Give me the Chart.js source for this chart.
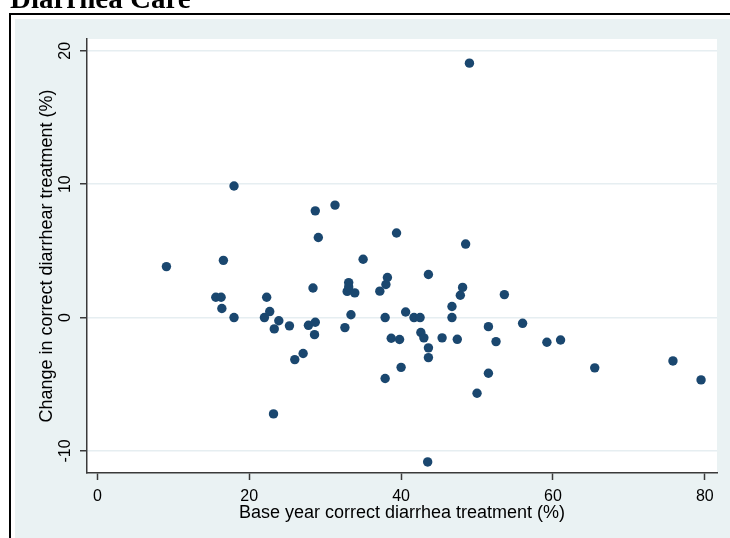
<!DOCTYPE html>
<html>
<head>
<meta charset="utf-8">
<script src="https://cdn.jsdelivr.net/npm/chart.js@4.4.0/dist/chart.umd.min.js"></script>
<style>
    html, body { margin: 0; padding: 0; background: #fff; }
    #wrap { position: relative; width: 730px; height: 538px; overflow: hidden; }
    #myChart { position: absolute; left: 0; top: 0; }
    #title { position: absolute; left: 10px; top: -16px; z-index: 2; white-space: nowrap;
             font: bold 29px 'Liberation Serif', 'Times New Roman', serif; line-height: 29px; color: #000; }
</style>
</head>
<body>
<div id="wrap">
    <canvas id="myChart" width="730" height="538"></canvas>
    <div id="title">Diarrhea Care</div>
</div>
<script>
// base year value (%) and change (%) per district
const baseYear = [9.1, 15.6, 16.3, 16.4, 16.6, 18.0, 18.0, 22.0, 22.3, 22.7,
    23.2, 23.3, 23.9, 25.3, 26.0, 27.1, 27.8, 28.4, 28.6, 28.7,
    28.7, 29.1, 31.3, 32.6, 32.9, 33.1, 33.1, 33.4, 33.9, 35.0,
    37.2, 37.9, 37.9, 38.0, 38.2, 38.7, 39.4, 39.8, 40.0, 40.6,
    41.7, 42.5, 42.6, 43.0, 43.5, 43.6, 43.6, 43.6, 45.4, 46.7,
    46.7, 47.4, 47.8, 48.1, 48.5, 49.0, 50.0, 51.5, 51.5, 52.5,
    53.6, 56.0, 59.2, 61.0, 65.5, 75.8, 79.5];
const change = [3.82, 1.52, 1.52, 0.68, 4.29, 9.86, 0.0, 0.0, 1.52, 0.45,
    -7.22, -0.85, -0.24, -0.62, -3.15, -2.69, -0.58, 2.22, -1.28, -0.35,
    8.0, 6.0, 8.43, -0.75, 1.96, 2.62, 2.3, 0.21, 1.85, 4.37,
    1.98, 0.0, -4.57, 2.48, 3.0, -1.55, 6.34, -1.64, -3.73, 0.42,
    0.0, 0.0, -1.12, -1.52, -10.82, 3.23, -2.27, -3.0, -1.52, 0.83,
    0.0, -1.63, 1.67, 2.26, 5.51, 19.07, -5.67, -0.68, -4.17, -1.8,
    1.72, -0.43, -1.85, -1.68, -3.77, -3.25, -4.67];
const xTicks = [0, 20, 40, 60, 80];
const yTicks = [-10, 0, 10, 20];
const xTitle = 'Base year correct diarrhea treatment (%)';
const yTitle = 'Change in correct diarrhear treatment (%)';

const axisColor = '#3a3a3a', gridColor = '#e6eef1', bgColor = '#eaf2f3';
const font = 'Liberation Sans, Arial, sans-serif';

// stata style frame: black rule, bluish graph region, white plot region
const frame = {
    id: 'frame',
    beforeDraw: function (chart) {
        const c = chart.ctx, a = chart.chartArea;
        c.save();
        c.fillStyle = '#fff';
        c.fillRect(0, 0, chart.width, chart.height);
        c.fillStyle = '#000';
        c.fillRect(9, 13, chart.width, 2);
        c.fillRect(9, 13, 2, chart.height);
        c.fillStyle = bgColor;
        c.fillRect(15, 19, chart.width, chart.height);
        c.fillStyle = '#fff';
        c.fillRect(a.left, a.top, a.right - a.left, a.bottom - a.top);
        c.restore();
    }
};

const points = baseYear.map(function (v, i) { return {x: v, y: change[i]}; });

new Chart(document.getElementById('myChart'), {
    type: 'scatter',
    data: {
        datasets: [{
            data: points,
            backgroundColor: '#1a476f',
            borderColor: '#1a476f',
            borderWidth: 0,
            pointRadius: 4.7,
            pointHoverRadius: 4.7
        }]
    },
    options: {
        responsive: false,
        animation: false,
        devicePixelRatio: 1,
        layout: {padding: {left: 0, right: 13, top: 39, bottom: 0}},
        plugins: {legend: {display: false}, tooltip: {enabled: false}},
        scales: {
            x: {
                type: 'linear', min: -1.36, max: 81.6,
                afterBuildTicks: function (s) { s.ticks = xTicks.map(function (v) { return {value: v}; }); },
                afterFit: function (s) { s.height = 65; },
                grid: {drawOnChartArea: false, drawTicks: true, tickLength: 7, tickColor: axisColor, tickWidth: 1.5},
                border: {display: true, color: axisColor, width: 1.5},
                ticks: {color: '#000', font: {family: font, size: 16}, padding: 7, maxRotation: 0, autoSkip: false},
                title: {display: true, text: xTitle, color: '#000', font: {family: font, size: 18}, padding: {top: 0, bottom: 14}}
            },
            y: {
                type: 'linear', min: -11.65, max: 20.88,
                afterBuildTicks: function (s) { s.ticks = yTicks.map(function (v) { return {value: v}; }); },
                afterFit: function (s) { s.width = 87; },
                grid: {color: gridColor, lineWidth: 1.5, drawTicks: true, tickLength: 7, tickColor: axisColor, tickWidth: 1.5},
                border: {display: true, color: axisColor, width: 1.5},
                ticks: {color: '#000', font: {family: font, size: 16}, padding: 3, minRotation: 90, maxRotation: 90, crossAlign: 'center', autoSkip: false},
                title: {display: true, text: yTitle, color: '#000', font: {family: font, size: 18}, padding: {top: 36, bottom: 0}}
            }
        }
    },
    plugins: [frame]
});
</script>
</body>
</html>
